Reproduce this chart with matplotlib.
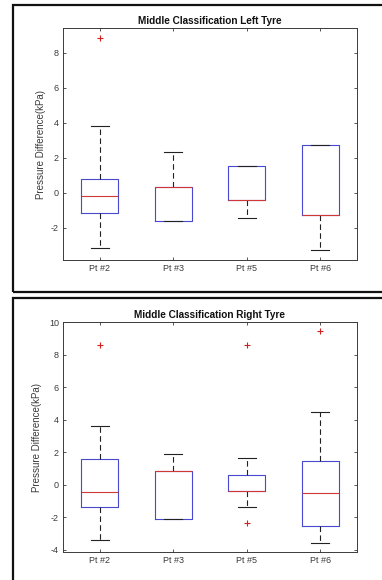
import matplotlib
matplotlib.use("Agg")
import matplotlib.pyplot as plt
from matplotlib.patches import Rectangle

plt.rcParams['font.family'] = ['Liberation Sans', 'DejaVu Sans']
plt.rcParams['axes.unicode_minus'] = False

categories = ["Pt #2", "Pt #3", "Pt #5", "Pt #6"]

# Left tyre box statistics
left_whislo = [-3.18, -1.62, -1.47, -3.28]
left_q1 = [-1.18, -1.62, -0.44, -1.28]
left_med = [-0.21, 0.30, -0.44, -1.28]
left_q3 = [0.78, 0.30, 1.54, 2.72]
left_whishi = [3.81, 2.34, 1.54, 2.72]
left_fliers = [[8.82], [], [], []]

# Right tyre box statistics
right_whislo = [-3.42, -2.15, -1.39, -3.57]
right_q1 = [-1.41, -2.15, -0.37, -2.56]
right_med = [-0.43, 0.84, -0.37, -0.55]
right_q3 = [1.58, 0.84, 0.61, 1.45]
right_whishi = [3.59, 1.86, 1.62, 4.45]
right_fliers = [[8.61], [], [8.61, -2.38], [9.45]]

titles = ["Middle Classification Left Tyre", "Middle Classification Right Tyre"]
ylabel = "Pressure Difference(kPa)"
left_yticks = [-2, 0, 2, 4, 6, 8]
right_yticks = [-4, -2, 0, 2, 4, 6, 8, 10]

W, H = 382, 580
fig = plt.figure(figsize=(W / 100, H / 100), dpi=100)

def fx(px):
    return px / W

def fy(py):
    return 1 - py / H

# outer frames
fig.patches.append(Rectangle((fx(12.5), fy(292)), fx(380), (292 - 5.5) / H,
                             transform=fig.transFigure, fill=False,
                             edgecolor='#111111', linewidth=1.6))
fig.patches.append(Rectangle((fx(12.5), fy(590)), fx(380), (590 - 298) / H,
                             transform=fig.transFigure, fill=False,
                             edgecolor='#111111', linewidth=1.6))

axc = '#3a3a3a'

def make_panel(rect, whislo, q1, med, q3, whishi, fliers, title, yticks, ylim, ylab_x):
    ax = fig.add_axes(rect)
    stats = []
    for i in range(len(categories)):
        stats.append(dict(whislo=whislo[i], q1=q1[i], med=med[i], q3=q3[i],
                          whishi=whishi[i], fliers=fliers[i], label=categories[i]))
    ax.bxp(stats, positions=range(1, len(categories) + 1), widths=0.5,
           showfliers=True,
           boxprops=dict(color='#4848d0', linewidth=0.8),
           medianprops=dict(color='#d03838', linewidth=0.8),
           whiskerprops=dict(color='#222222', linewidth=0.8, linestyle=(0, (5, 3))),
           capprops=dict(color='#222222', linewidth=0.8),
           capwidths=0.25,
           flierprops=dict(marker='+', markeredgecolor='#d02020', markersize=5,
                           markeredgewidth=0.8, linestyle='none'))
    ax.set_xlim(0.5, 4.5)
    ax.set_ylim(*ylim)
    ax.set_yticks(yticks)
    ax.set_yticklabels([str(t) for t in yticks])
    ax.set_xticks(range(1, len(categories) + 1))
    ax.set_xticklabels(categories)
    ax.tick_params(direction='in', length=2.5, width=0.6, colors=axc,
                   labelsize=6.5, top=True, right=True, pad=3)
    for s in ax.spines.values():
        s.set_color(axc)
        s.set_linewidth(0.7)
    ax.set_title(title, fontsize=7.2, fontweight='bold', color='#111111', pad=3)
    ax.set_ylabel(ylabel, fontsize=7, color=axc)
    ax.yaxis.set_label_coords(ylab_x, 0.5)
    return ax

make_panel([fx(63), fy(260), fx(294), (260 - 28.3) / H],
           left_whislo, left_q1, left_med, left_q3, left_whishi, left_fliers,
           titles[0], left_yticks, (-3.85, 9.39), -0.058)
make_panel([fx(63), fy(552.3), fx(294), (552.3 - 321.7) / H],
           right_whislo, right_q1, right_med, right_q3, right_whishi, right_fliers,
           titles[1], right_yticks, (-4.17, 10.02), -0.072)

fig.savefig("out.png", dpi=100)
